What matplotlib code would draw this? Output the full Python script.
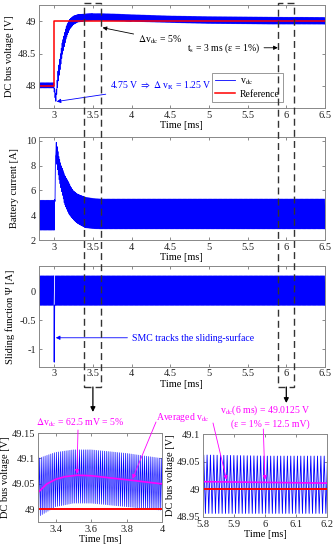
import numpy as np
import matplotlib
matplotlib.use('Agg')
import matplotlib.pyplot as plt
from matplotlib.patches import Rectangle, FancyArrowPatch
from matplotlib.ticker import FuncFormatter

plt.rcParams['font.family'] = ['Liberation Serif', 'DejaVu Serif']
plt.rcParams['mathtext.fontset'] = 'stix'

W, H = 334, 550
T_SW = 0.0108  # switching period [ms]

# ---------------- data ----------------
vdc_t  = [2.8, 2.998, 3.0, 3.02, 3.05, 3.1, 3.15, 3.2, 3.25, 3.3, 3.4, 3.5, 3.6, 3.8, 4.0, 4.5, 5.0, 5.5, 5.8, 6.0, 6.2, 6.5]
vdc_up = [48.05, 48.05, 48.0, 47.86, 48.25, 48.65, 48.9, 49.03, 49.08, 49.1, 49.112, 49.117, 49.117, 49.11, 49.1, 49.08, 49.07, 49.065, 49.062, 49.06, 49.06, 49.058]
vdc_lo = [47.97, 47.97, 47.9, 47.75, 48.05, 48.45, 48.72, 48.88, 48.95, 48.985, 49.005, 49.012, 49.012, 49.005, 48.998, 48.98, 48.965, 48.96, 48.956, 48.956, 48.956, 48.955]
ref_t = [2.8, 3.0, 3.0, 6.5]
ref_v = [48.0, 48.0, 49.0, 49.0]

ibat_t  = [2.8, 2.999, 3.005, 3.02, 3.03, 3.06, 3.09, 3.13, 3.18, 3.24, 3.3, 3.4, 3.5, 3.6, 6.5]
ibat_up = [5.2, 5.2, 5.2, 10.0, 9.8, 8.7, 8.0, 7.3, 6.7, 6.0, 5.7, 5.45, 5.35, 5.3, 5.3]
ibat_lo = [2.8, 2.8, 2.8, 9.0, 8.2, 7.0, 6.1, 5.0, 4.2, 3.7, 3.35, 3.0, 2.92, 2.9, 2.9]

psi_t  = [2.8, 6.5]
psi_up = [0.27, 0.27]
psi_lo = [-0.24, -0.24]
psi_gap = [2.995, 3.006]
psi_spike_t = [2.999, 3.001, 3.004]
psi_spike_v = [-0.24, -1.22, -0.24]

avg_t = [3.3, 3.35, 3.4, 3.45, 3.52, 3.6, 3.7, 3.83, 3.9, 4.0]
avg_v = [49.033, 49.05, 49.059, 49.064, 49.067, 49.066, 49.062, 49.057, 49.054, 49.05]
avg2_t = [5.8, 6.2]
avg2_v = [49.0135, 49.011]

box_x = [(3.38, 3.60), (5.895, 6.10)]
arrow_x = [3.5, 6.0]


def ripple(tk, upk, lok, t0=2.8, t1=6.5, period=T_SW, gap=None):
    ts = np.arange(t0, t1 + 1e-9, period / 2)
    up = np.interp(ts, tk, upk)
    lo = np.interp(ts, tk, lok)
    v = np.where(np.arange(len(ts)) % 2 == 0, up, lo)
    if gap is not None:
        v = np.where((ts > gap[0]) & (ts < gap[1]), np.nan, v)
    return ts, v


def fp(x, y):
    return (x / W, 1 - y / H)


fmt = FuncFormatter(lambda v, p: '%g' % v)


def style(ax):
    ax.tick_params(direction='in', length=2.5, width=0.6, top=True, right=True,
                   labelsize=7.5, color='#777', labelcolor='#222', pad=2)
    for s in ax.spines.values():
        s.set_color('#888')
        s.set_linewidth(0.7)
    ax.xaxis.set_major_formatter(fmt)
    ax.yaxis.set_major_formatter(fmt)


fig = plt.figure(figsize=(W / 100, H / 100), dpi=100)

BLUE = '#0000ff'
RED = '#ff0000'
MAG = '#ff00ff'
xt = [3, 3.5, 4, 4.5, 5, 5.5, 6, 6.5]

# ---- panel 1 : DC bus voltage
ax1 = fig.add_axes([0.116, 0.8036, 0.857, 0.1873])
tv, vv = ripple(vdc_t, vdc_up, vdc_lo)
ax1.plot(tv, vv, color=BLUE, lw=0.6, label=r'v$_{\rm dc}$')
ax1.plot(ref_t, ref_v, color=RED, lw=1.1, label='Reference')
ax1.set_xlim(2.8, 6.5)
ax1.set_ylim(47.66, 49.25)
ax1.set_xticks(xt)
ax1.set_yticks([48, 48.5, 49])
ax1.set_xlabel('Time [ms]', fontsize=7.5, labelpad=1)
ax1.set_ylabel('DC bus voltage [V]', fontsize=7.5, labelpad=3)
style(ax1)
leg = ax1.legend(loc='lower left', bbox_to_anchor=(0.605, 0.058), borderaxespad=0,
                 fontsize=7, fancybox=False, framealpha=1, edgecolor='#888',
                 handlelength=2.0, borderpad=0.35, labelspacing=0.25, handletextpad=0.5)
leg.get_frame().set_linewidth(0.6)
ax1.annotate(r'$\Delta$v$_{\rm dc}$ = 5%', xy=(3.625, 48.90), xytext=(4.08, 48.72),
             fontsize=7, va='center', ha='left',
             arrowprops=dict(arrowstyle='-|>', color='k', lw=0.6, mutation_scale=6, shrinkA=1, shrinkB=0))
ax1.annotate(r't$_{\rm s}$ = 3 ms (ε = 1%)', xy=(5.89, 48.59), xytext=(4.715, 48.59),
             fontsize=7, va='center', ha='left',
             arrowprops=dict(arrowstyle='-|>', color='k', lw=0.6, mutation_scale=6, shrinkA=1, shrinkB=0))
ax1.annotate(r'4.75 V $\Rightarrow$ $\Delta$ v$_{\rm R}$ = 1.25 V', xy=(3.031, 47.76), xytext=(3.72, 48.0),
             fontsize=7, va='center', ha='left', color=BLUE,
             arrowprops=dict(arrowstyle='-|>', color=BLUE, lw=0.6, mutation_scale=6, shrinkA=1, shrinkB=0))

# ---- panel 2 : battery current
ax2 = fig.add_axes([0.116, 0.5636, 0.857, 0.1873])
ti, vi = ripple(ibat_t, ibat_up, ibat_lo)
ax2.plot(ti, vi, color=BLUE, lw=0.6)
ax2.set_xlim(2.8, 6.5)
ax2.set_ylim(2, 10.3)
ax2.set_xticks(xt)
ax2.set_yticks([2, 4, 6, 8, 10])
ax2.set_xlabel('Time [ms]', fontsize=7.5, labelpad=1)
ax2.set_ylabel('Battery current [A]', fontsize=7.5, labelpad=5)
style(ax2)

# ---- panel 3 : sliding function
ax3 = fig.add_axes([0.116, 0.3333, 0.857, 0.183])
tp, vp = ripple(psi_t, psi_up, psi_lo, gap=psi_gap)
ax3.plot(tp, vp, color=BLUE, lw=0.6)
ax3.plot(psi_spike_t, psi_spike_v, color=BLUE, lw=0.8)
ax3.set_xlim(2.8, 6.5)
ax3.set_ylim(-1.3, 0.44)
ax3.set_xticks(xt)
ax3.set_yticks([-1, -0.5, 0])
ax3.set_xlabel('Time [ms]', fontsize=7.5, labelpad=1)
ax3.set_ylabel('Sliding function Ψ [A]', fontsize=7.5, labelpad=3)
style(ax3)
ax3.annotate('SMC tracks the sliding-surface', xy=(3.02, -0.8), xytext=(4.0, -0.8),
             fontsize=7, va='center', ha='left', color=BLUE,
             arrowprops=dict(arrowstyle='-|>', color=BLUE, lw=0.6, mutation_scale=6, shrinkA=1, shrinkB=0))

# ---- bottom-left zoom
ax4 = fig.add_axes([0.1138, 0.0509, 0.371, 0.1618])
ax4.plot(tv, vv, color=BLUE, lw=0.45)
ax4.plot(ref_t, ref_v, color=RED, lw=1.4)
ax4.plot(avg_t, avg_v, color=MAG, lw=1.2)
ax4.set_xlim(3.3, 4.0)
ax4.set_ylim(48.975, 49.15)
ax4.set_xticks([3.4, 3.6, 3.8, 4])
ax4.set_yticks([49, 49.05, 49.1, 49.15])
ax4.set_xlabel('Time [ms]', fontsize=7.5, labelpad=1)
ax4.set_ylabel('DC bus voltage [V]', fontsize=7.5, labelpad=1)
style(ax4)

# ---- bottom-right zoom
ax5 = fig.add_axes([0.6078, 0.0605, 0.371, 0.1504])
ax5.plot(tv, vv, color=BLUE, lw=0.6)
ax5.plot(ref_t, ref_v, color=RED, lw=1.4)
ax5.plot(avg2_t, avg2_v, color=MAG, lw=1.2)
ax5.set_xlim(5.8, 6.2)
ax5.set_ylim(48.95, 49.1)
ax5.set_xticks([5.8, 5.9, 6, 6.1, 6.2])
ax5.set_yticks([48.95, 49, 49.05, 49.1])
ax5.set_xlabel('Time [ms]', fontsize=7.5, labelpad=1)
ax5.set_ylabel('DC bus voltage [V]', fontsize=7.5, labelpad=1)
style(ax5)

# magenta annotations
mprops = dict(arrowstyle='-|>', color=MAG, lw=0.6, mutation_scale=6, shrinkA=0, shrinkB=0)
fig.text(*fp(80, 423), r'$\Delta$v$_{\rm dc}$ = 62.5 mV = 5%', color=MAG, fontsize=7, ha='center', va='center')
ax4.annotate('', xy=(3.52, 49.07), xytext=fp(78, 430), textcoords='figure fraction', arrowprops=mprops)
fig.text(*fp(183, 417), r'Averaged v$_{\rm dc}$', color=MAG, fontsize=7, ha='center', va='center')
ax4.annotate('', xy=(3.834, 49.06), xytext=fp(156, 422), textcoords='figure fraction',
             arrowprops=mprops, annotation_clip=False)
ax5.annotate('', xy=(5.876, 49.017), xytext=fp(213, 423), textcoords='figure fraction',
             arrowprops=mprops, annotation_clip=False)
fig.text(*fp(265, 410), r'v$_{\rm dc}$(6 ms) = 49.0125 V', color=MAG, fontsize=7, ha='center', va='center')
fig.text(*fp(270, 424), '(ε = 1% = 12.5 mV)', color=MAG, fontsize=7, ha='center', va='center')
ax5.annotate('', xy=(6.0, 49.017), xytext=fp(263.3, 429), textcoords='figure fraction',
             arrowprops=mprops, annotation_clip=False)

# dashed boxes and down arrows
inv = fig.transFigure.inverted()
y_top, y_bot = 3, 387
for (x0, x1), xa in zip(box_x, arrow_x):
    fx0 = inv.transform(ax1.transData.transform((x0, 49)))[0]
    fx1 = inv.transform(ax1.transData.transform((x1, 49)))[0]
    fxa = inv.transform(ax1.transData.transform((xa, 49)))[0]
    rect = Rectangle((fx0, 1 - y_bot / H), fx1 - fx0, (y_bot - y_top) / H,
                     transform=fig.transFigure, fill=False, ls=(0, (5, 3)), lw=1.0,
                     ec='#333333', zorder=20)
    fig.add_artist(rect)
    yend = 412 if xa < 5 else 403
    arr = FancyArrowPatch((fxa, 1 - y_bot / H), (fxa, 1 - yend / H), transform=fig.transFigure,
                          arrowstyle='-|>', mutation_scale=7, lw=0.9, color='k', shrinkA=0, shrinkB=0)
    fig.add_artist(arr)

fig.savefig('out.png', dpi=100)
